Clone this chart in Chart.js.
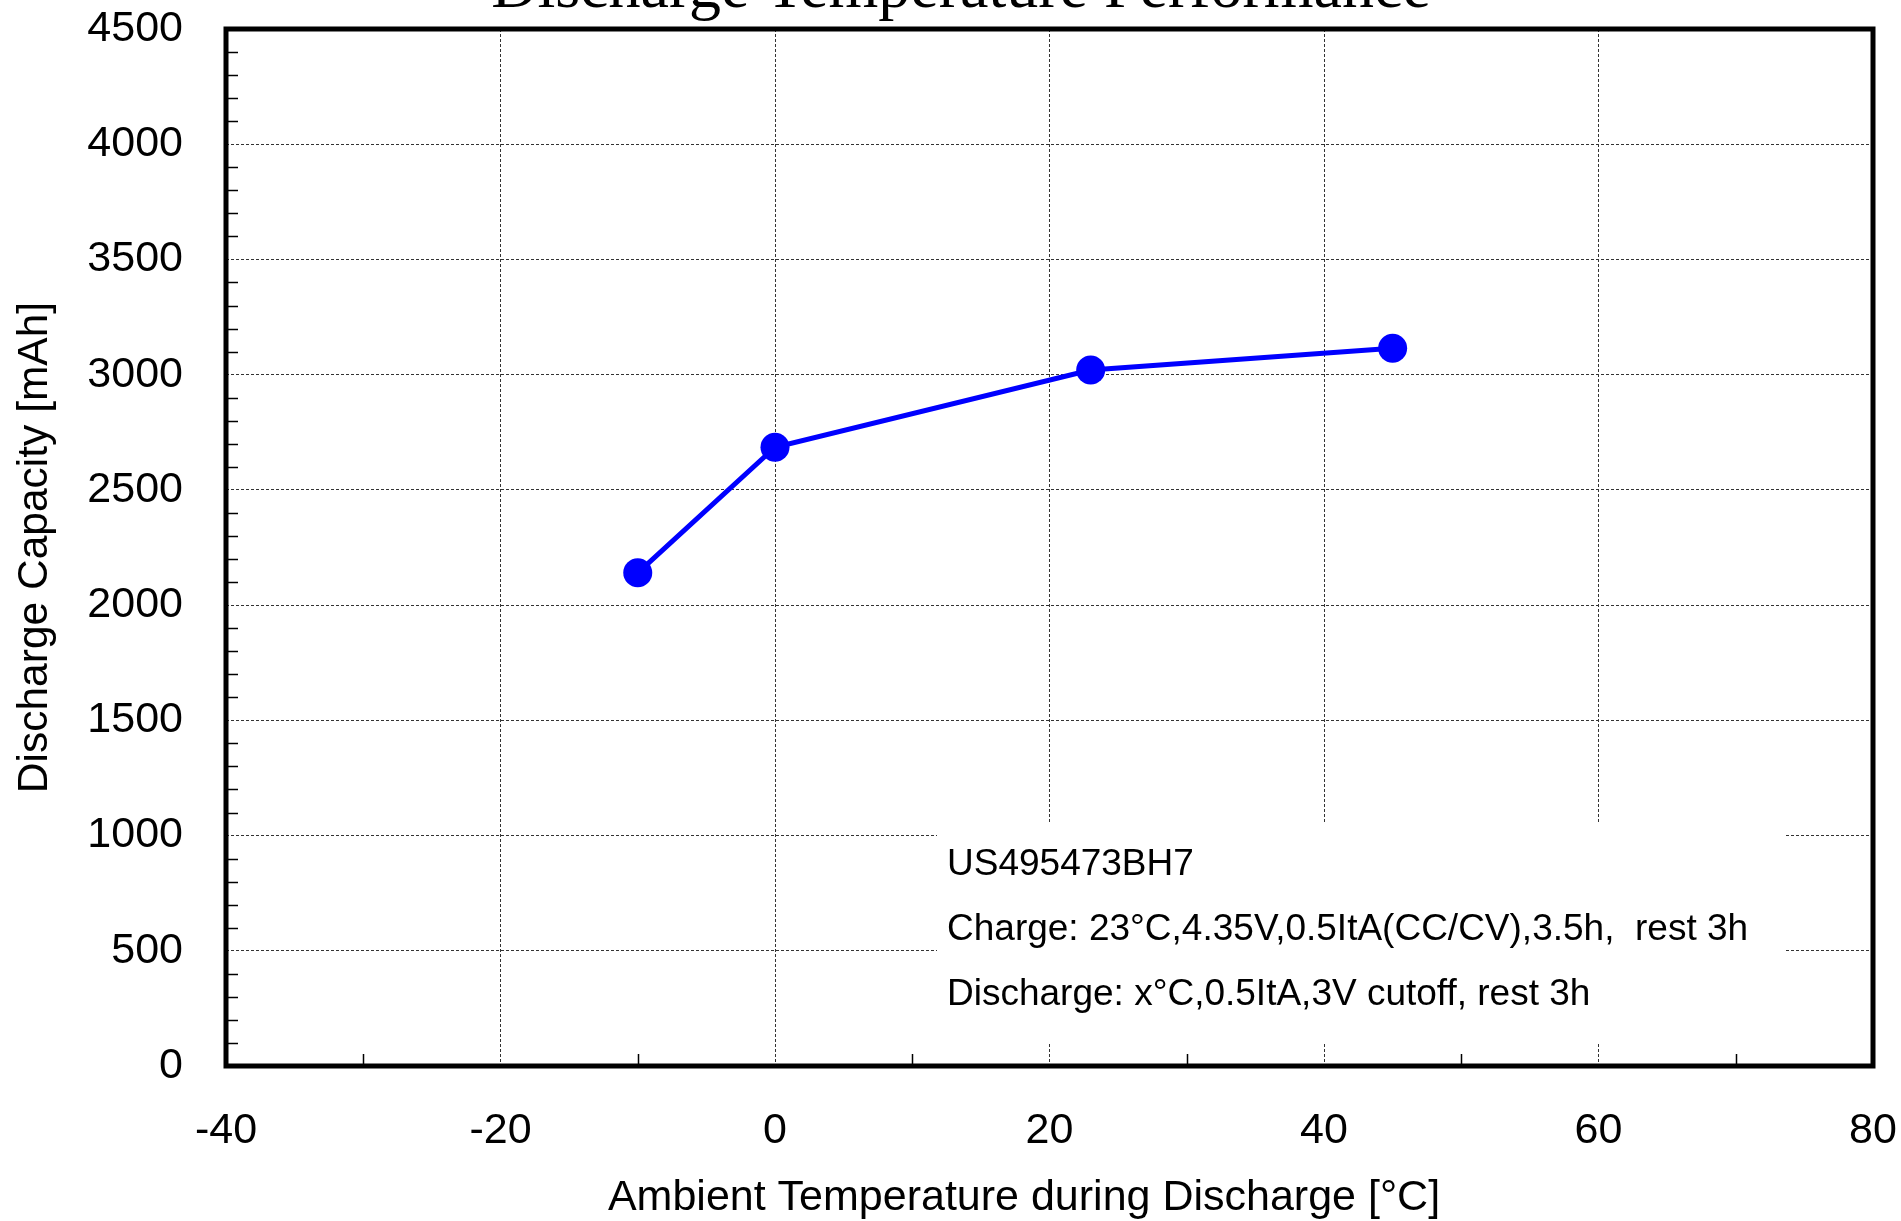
<!DOCTYPE html>
<html>
<head>
<meta charset="utf-8">
<title>Discharge Temperature Performance</title>
<script src="https://cdn.jsdelivr.net/npm/chart.js@4/dist/chart.umd.min.js"></script>
<style>
  html, body { margin: 0; padding: 0; background: #fff; }
  canvas { display: block; }
</style>
</head>
<body>
<canvas id="myChart" width="1901" height="1221"></canvas>
<script>
// data
var temps = [-10, 0, 23, 45];
var capacity = [2140, 2685, 3020, 3115];
var xTickValues = [-40, -20, 0, 20, 40, 60, 80];
var yTickValues = [0, 500, 1000, 1500, 2000, 2500, 3000, 3500, 4000, 4500];
var chartTitle = 'Discharge Temperature Performance';
var xTitle = 'Ambient Temperature during Discharge [\u00b0C]';
var yTitle = 'Discharge Capacity [mAh]';
var noteLines = [
    'US495473BH7',
    'Charge: 23\u00b0C,4.35V,0.5ItA(CC/CV),3.5h,  rest 3h',
    'Discharge: x\u00b0C,0.5ItA,3V cutoff, rest 3h'
];

var sansFont = "'Liberation Sans', Arial, sans-serif";

// title, x axis title, minor ticks, frame and the condition note
var extras = {
    id: 'extras',
    beforeDatasetsDraw: function (chart) {
        var ctx = chart.ctx;
        ctx.save();
        // white note box over the grid
        ctx.fillStyle = '#fff';
        ctx.fillRect(937, 822, 849, 221);
        ctx.fillStyle = '#000';
        ctx.font = '37px ' + sansFont;
        ctx.textAlign = 'left';
        ctx.textBaseline = 'middle';
        var ys = [865, 930, 995];
        for (var i = 0; i < noteLines.length; i++) {
            ctx.fillText(noteLines[i], 947, ys[i]);
        }
        ctx.restore();
    },
    afterDraw: function (chart) {
        var ctx = chart.ctx;
        var area = chart.chartArea;
        var xs = chart.scales.x;
        var ys = chart.scales.y;
        ctx.save();
        // minor ticks, pointing inward
        ctx.strokeStyle = '#000';
        ctx.lineWidth = 1.5;
        ctx.beginPath();
        for (var v = ys.min + 100; v < ys.max; v += 100) {
            if (v % 500 === 0) continue;
            var py = Math.round(ys.getPixelForValue(v)) + 0.5;
            ctx.moveTo(area.left, py);
            ctx.lineTo(area.left + 12, py);
        }
        for (var t = xs.min + 10; t < xs.max; t += 20) {
            var px = Math.round(xs.getPixelForValue(t)) + 0.5;
            ctx.moveTo(px, area.bottom);
            ctx.lineTo(px, area.bottom - 12);
        }
        ctx.stroke();
        // frame
        ctx.lineWidth = 5;
        ctx.strokeRect(area.left, area.top, area.right - area.left, area.bottom - area.top);
        ctx.fillStyle = '#000';
        // x axis title, sits a little left of the plot centre
        ctx.font = '43px ' + sansFont;
        ctx.textAlign = 'center';
        ctx.textBaseline = 'middle';
        ctx.fillText(xTitle, 1024, 1198);
        // chart title, mostly cut off at the top
        ctx.font = '64px "Liberation Serif", "Times New Roman", serif';
        ctx.textBaseline = 'alphabetic';
        ctx.fillText(chartTitle, 961, 7);
        ctx.restore();
    }
};

var ctx = document.getElementById('myChart').getContext('2d');
var chart = new Chart(ctx, {
    type: 'line',
    data: {
        datasets: [{
            data: temps.map(function (t, i) { return { x: t, y: capacity[i] }; }),
            borderColor: '#0000ff',
            backgroundColor: '#0000ff',
            borderWidth: 5,
            pointRadius: 14.5,
            pointBorderWidth: 0,
            pointBackgroundColor: '#0000ff',
            tension: 0,
            fill: false
        }]
    },
    options: {
        responsive: false,
        animation: false,
        devicePixelRatio: 1,
        layout: { padding: { top: 29, right: 28, left: 0, bottom: 0 } },
        plugins: {
            legend: { display: false },
            tooltip: { enabled: false }
        },
        scales: {
            x: {
                type: 'linear',
                min: -40,
                max: 80,
                afterBuildTicks: function (scale) {
                    scale.ticks = xTickValues.map(function (v) { return { value: v }; });
                },
                afterFit: function (scale) {
                    scale.height = 155;
                    scale.paddingLeft = 0;
                    scale.paddingRight = 0;
                },
                grid: { color: '#333', lineWidth: 1, drawTicks: false },
                border: { display: false, dash: [3, 2] },
                ticks: {
                    color: '#000',
                    padding: 39,
                    maxRotation: 0,
                    font: { family: sansFont, size: 43 },
                    callback: function (v) { return String(v); }
                },
                title: { display: false }
            },
            y: {
                min: 0,
                max: 4500,
                afterBuildTicks: function (scale) {
                    scale.ticks = yTickValues.map(function (v) { return { value: v }; });
                },
                afterFit: function (scale) {
                    scale.width = 226;
                    scale.paddingTop = 0;
                    scale.paddingBottom = 0;
                },
                grid: { color: '#333', lineWidth: 1, drawTicks: false },
                border: { display: false, dash: [3, 2] },
                ticks: {
                    color: '#000',
                    padding: 43,
                    font: { family: sansFont, size: 43 },
                    callback: function (v) { return String(v); }
                },
                title: {
                    display: true,
                    text: yTitle,
                    color: '#000',
                    padding: { top: 10, bottom: 0 },
                    font: { family: sansFont, size: 42.5 }
                }
            }
        }
    },
    plugins: [extras]
});
</script>
</body>
</html>
